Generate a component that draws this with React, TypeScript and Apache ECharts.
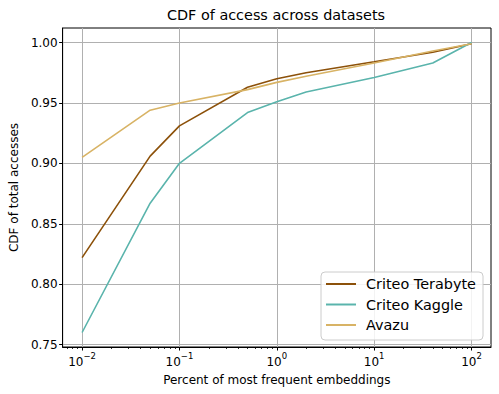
import React, { useEffect, useRef } from 'react';
import * as echarts from 'echarts';

const percents = [0.01, 0.05, 0.1, 0.5, 1, 2, 10, 40, 100];
const criteoTerabyte = [0.822, 0.906, 0.931, 0.963, 0.970, 0.975, 0.984, 0.992, 0.999];
const criteoKaggle = [0.760, 0.867, 0.900, 0.942, 0.951, 0.959, 0.971, 0.983, 1.0];
const avazu = [0.905, 0.944, 0.950, 0.961, 0.967, 0.972, 0.983, 0.993, 0.999];
const seriesNames = ['Criteo Terabyte', 'Criteo Kaggle', 'Avazu'];
const seriesColors = ['#8c510a', '#5ab4ac', '#d8b365'];
const xMajorTicks = [0.01, 0.1, 1, 10, 100];
const xMinorTicks = [
  0.007, 0.008, 0.009,
  0.02, 0.03, 0.04, 0.05, 0.06, 0.07, 0.08, 0.09,
  0.2, 0.3, 0.4, 0.5, 0.6, 0.7, 0.8, 0.9,
  2, 3, 4, 5, 6, 7, 8, 9,
  20, 30, 40, 50, 60, 70, 80, 90,
];
const yTicks = [0.75, 0.8, 0.85, 0.9, 0.95, 1.0];

const FONT = 'DejaVu Sans';

export default function App() {
  const ref = useRef<HTMLDivElement>(null);
  useEffect(() => {
    if (!ref.current) return;
    const chart = echarts.init(ref.current, null, { renderer: 'svg' });
    const allSeries = [criteoTerabyte, criteoKaggle, avazu];
    const xMin = Math.pow(10, -2.2);
    const xMax = Math.pow(10, 2.2);
    chart.setOption({
      animation: false,
      textStyle: { fontFamily: FONT },
      grid: {
        left: 61, top: 28, width: 430, height: 319,
        show: true, borderColor: '#000', borderWidth: 1, backgroundColor: 'transparent',
        containLabel: false,
      },
      graphic: [
        {
          type: 'text', x: 276, y: 15, z: 10,
          style: {
            text: 'CDF of access across datasets', fontFamily: FONT, fontSize: 14.4,
            fill: '#000', textAlign: 'center', textVerticalAlign: 'middle',
          },
        },
        {
          type: 'rect', z: 5,
          shape: { x: 321, y: 272, width: 162, height: 68, r: 4 },
          style: { fill: 'rgba(255,255,255,0.85)', stroke: '#cccccc', lineWidth: 1 },
        },
      ],
      legend: {
        orient: 'vertical', left: 321, top: 272, z: 10,
        padding: [5, 5, 4, 5], itemGap: 6.5, itemWidth: 30, itemHeight: 14,
        icon: 'path://M0,0H30V2H0Z',
        data: seriesNames,
        textStyle: { fontFamily: FONT, fontSize: 14.4, color: '#000', padding: [0, 0, 0, 5] },
      },
      xAxis: [
        {
          type: 'log', logBase: 10, min: xMin, max: xMax,
          name: 'Percent of most frequent embeddings', nameLocation: 'middle', nameGap: 27,
          nameTextStyle: { fontFamily: FONT, fontSize: 12, color: '#000' },
          axisLine: { show: true, lineStyle: { color: '#000', width: 1 } },
          axisTick: { show: true, inside: false, length: 3.5, customValues: xMajorTicks, lineStyle: { color: '#000' } },
          axisLabel: {
            customValues: xMajorTicks, margin: 4, color: '#000',
            formatter: (v: number) => `{b|10}{s|${Math.round(Math.log10(v)) < 0 ? '\u2212' : ''}${Math.abs(Math.round(Math.log10(v)))}}`,
            rich: {
              b: { fontFamily: FONT, fontSize: 12, lineHeight: 17, verticalAlign: 'bottom', color: '#000' },
              s: { fontFamily: FONT, fontSize: 8.5, lineHeight: 10, verticalAlign: 'top', color: '#000' },
            },
          },
          splitLine: { show: true, lineStyle: { color: '#b0b0b0', width: 1 } },
          minorTick: { show: false },
        },
        {
          type: 'log', logBase: 10, min: xMin, max: xMax, position: 'bottom',
          axisLine: { show: false },
          axisTick: { show: true, inside: false, length: 2, customValues: xMinorTicks, lineStyle: { color: '#000', width: 0.8 } },
          axisLabel: { show: false },
          splitLine: { show: false },
        },
      ],
      yAxis: {
        type: 'value', min: 0.748, max: 1.012,
        name: 'CDF of total accesses', nameLocation: 'middle', nameGap: 40,
        nameTextStyle: { fontFamily: FONT, fontSize: 12, color: '#000' },
        axisLine: { show: true, lineStyle: { color: '#000', width: 1 } },
        axisTick: { show: true, inside: false, length: 3.5, customValues: yTicks, lineStyle: { color: '#000' } },
        axisLabel: {
          customValues: yTicks, margin: 5, color: '#000', fontFamily: FONT, fontSize: 12,
          formatter: (v: number) => v.toFixed(2),
        },
        splitLine: { show: true, lineStyle: { color: '#b0b0b0', width: 1 } },
      },
      series: seriesNames.map((name, i) => ({
        name, type: 'line', xAxisIndex: 0, symbol: 'none', showSymbol: false,
        data: percents.map((p, j) => [p, allSeries[i][j]]),
        lineStyle: { color: seriesColors[i], width: 1.6 },
        itemStyle: { color: seriesColors[i] },
        z: 3,
      })),
    });
    return () => chart.dispose();
  }, []);
  return <div ref={ref} style={{ width: 499, height: 394, position: 'absolute', left: 0, top: 0 }} />;
}
